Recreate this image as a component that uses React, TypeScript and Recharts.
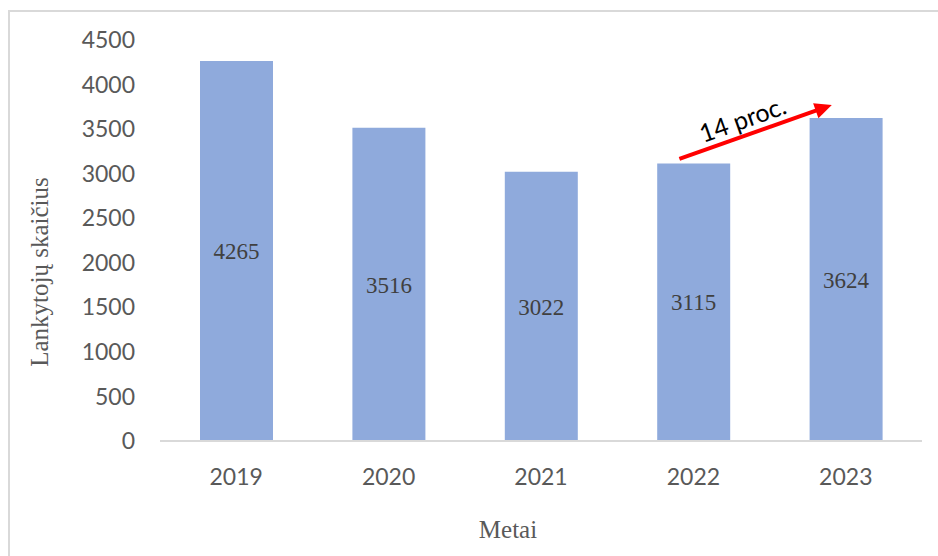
import React from 'react';
import {
  BarChart,
  Bar,
  XAxis,
  YAxis,
  LabelList,
  ReferenceLine,
} from 'recharts';

const years = ['2019', '2020', '2021', '2022', '2023'];
const visitors = [4265, 3516, 3022, 3115, 3624];
const yTicks = [0, 500, 1000, 1500, 2000, 2500, 3000, 3500, 4000, 4500];

// growth arrow between 2022 and 2023
const arrowStart = { year: '2022', value: 3165 };
const arrowEnd = { year: '2023', value: 3770 };
const arrowText = '14 proc.';

const data = years.map((year, i) => ({ year, value: visitors[i] }));

const tickFont = { fontFamily: 'Lato, sans-serif', fontSize: 23, fill: '#595959' };
const serif = '"Liberation Serif", "Times New Roman", serif';

const GrowthArrow = (props: any) => {
  const shift = -14;
  const x1 = props.x1 + shift;
  const y1 = props.y1;
  const x2 = props.x2 + shift;
  const y2 = props.y2;
  const angle = (Math.atan2(y2 - y1, x2 - x1) * 180) / Math.PI;
  const len = Math.hypot(x2 - x1, y2 - y1);
  const mx = (x1 + x2) / 2;
  const my = (y1 + y2) / 2;
  return (
    <g>
      <g transform={`translate(${x1},${y1}) rotate(${angle})`}>
        <line x1={0} y1={0} x2={len - 14} y2={0} stroke="#ff0000" strokeWidth={4} />
        <polygon points={`${len},0 ${len - 17},-8 ${len - 17},8`} fill="#ff0000" />
      </g>
      <g transform={`translate(${mx},${my}) rotate(${angle})`}>
        <text x={-8} y={-7} textAnchor="middle" fontFamily="Lato, sans-serif" fontSize={25} fill="#000">
          {arrowText}
        </text>
      </g>
    </g>
  );
};

const YTitle = () => (
  <text
    x={38}
    y={260}
    transform="rotate(-90, 38, 260)"
    textAnchor="middle"
    fontFamily={serif}
    fontSize={25}
    fill="#595959"
  >
    Lankytojų skaičius
  </text>
);

const XTitle = () => (
  <text x={498} y={526} textAnchor="middle" fontFamily={serif} fontSize={25} fill="#595959">
    Metai
  </text>
);

export default function App() {
  return (
    <div
      style={{
        position: 'fixed',
        left: 8,
        top: 10,
        width: 935,
        height: 550,
        borderTop: '2px solid #d9d9d9',
        borderLeft: '2px solid #d9d9d9',
        background: '#fff',
      }}
    >
      <BarChart
        width={928}
        height={540}
        data={data}
        margin={{ top: 28, right: 16, left: 70, bottom: 21 }}
      >
        <XAxis
          dataKey="year"
          height={90}
          tickLine={false}
          tickMargin={22}
          axisLine={{ stroke: '#d9d9d9', strokeWidth: 2 }}
          tick={tickFont}
          label={{ content: () => <XTitle /> }}
        />
        <YAxis
          width={80}
          domain={[0, 4500]}
          ticks={yTicks}
          axisLine={false}
          tickLine={false}
          tickMargin={19}
          tick={tickFont}
          interval={0}
          label={{ content: () => <YTitle /> }}
        />
        <Bar dataKey="value" fill="#8faadc" barSize={73} isAnimationActive={false}>
          <LabelList
            dataKey="value"
            position="center"
            style={{ fontFamily: serif, fontSize: 23, fill: '#404040' }}
          />
        </Bar>
        <ReferenceLine
          segment={[
            { x: arrowStart.year, y: arrowStart.value },
            { x: arrowEnd.year, y: arrowEnd.value },
          ]}
          shape={(p: any) => <GrowthArrow {...p} />}
        />
      </BarChart>
    </div>
  );
}
